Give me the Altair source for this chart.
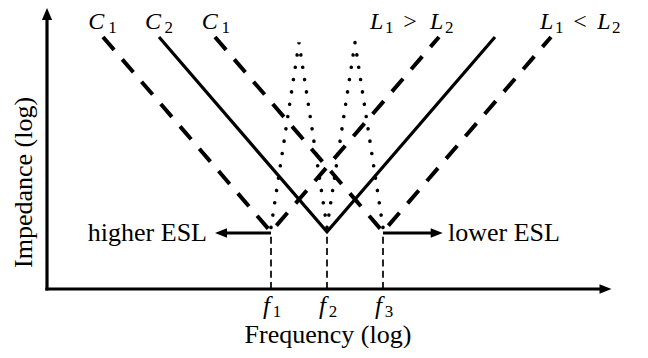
import altair as alt
import pandas as pd

# ---------------- data (abstract log-frequency / log-impedance units) ----------------
res_freq = [40, 50, 60]            # f1, f2, f3
res_sub = ["1", "2", "3"]

# V-shaped impedance curves (left top, resonance, right top)
v_curve = ["f1", "f1", "f1", "f2", "f2", "f2", "f3", "f3", "f3"]
v_x = [10, 40, 70, 20, 50, 80, 30, 60, 90]
v_z = [45, 10.2, 45, 45, 10.2, 45, 45, 10.2, 45]
v_style = ["dashed", "dashed", "dashed", "solid", "solid", "solid", "dashed", "dashed", "dashed"]

# anti-resonance peaks (dotted)
peak_x = [40, 45, 50, 55, 60]
peak_z = [11, 44, 11, 44, 11]

# drop lines from resonance to frequency axis
drop_x = [40, 50, 60]
drop_top = [10, 10.2, 10]

# ESL arrows
esl_from = [40, 60]
esl_tip = [30.0, 70.66]
esl_z = 10

# axis extents
axis_x_tip = 100.8
axis_y_tip = 50.18

# texts
top_main_text = ["C", "C", "C", "L", "L", "L", "L"]
top_main_x = [7.37, 17.5, 27.63, 57.68, 68.39, 88.04, 98.27]
top_sub_text = ["1", "2", "1", "1", "2", "1", "2"]
top_sub_x = [10.95, 21.0, 31.15, 60.36, 71.07, 90.71, 100.89]
rel_text = [">", "<"]
rel_x = [63.63, 93.98]
top_main_z = 46.34
top_sub_z = 45.80

esl_text = ["higher ESL", "lower ESL"]
x_title = "Frequency (log)"
y_title = "Impedance (log)"

# ---------------- scales ----------------
XS = alt.Scale(domain=[-6.964, 105.536], nice=False, zero=False)
YS = alt.Scale(domain=[-10.536, 50.179], nice=False, zero=False)
FONT = "Liberation Serif, DejaVu Serif, serif"


def X(f):
    return alt.X(f, type="quantitative", scale=XS, axis=None)


def Y(f):
    return alt.Y(f, type="quantitative", scale=YS, axis=None)


v_df = pd.DataFrame({"curve": v_curve, "x": v_x, "z": v_z, "style": v_style})
solid = alt.Chart(v_df[v_df["style"] == "solid"]).mark_line(
    color="black", strokeWidth=3.2, strokeCap="butt", strokeJoin="miter"
).encode(x=X("x"), y=Y("z"), detail="curve:N")
dashed = alt.Chart(v_df[v_df["style"] == "dashed"]).mark_line(
    color="black", strokeWidth=4, strokeDash=[17, 12.5], strokeCap="butt"
).encode(x=X("x"), y=Y("z"), detail="curve:N")

dot_df = pd.DataFrame({"x": peak_x, "z": peak_z})
dotted = alt.Chart(dot_df).mark_line(
    color="black", strokeWidth=3.6, strokeDash=[0.01, 12.45], strokeCap="round"
).encode(x=X("x"), y=Y("z"))

drop_df = pd.DataFrame({"x": drop_x, "top": drop_top, "bot": [0, 0, 0]})
drops = alt.Chart(drop_df).mark_rule(
    color="black", strokeWidth=1.7, strokeDash=[7, 4.3]
).encode(x=X("x"), y=Y("bot"), y2="top")

head_len = 1.8  # shaft stops under the arrowhead
esl_df = pd.DataFrame({
    "x": esl_from,
    "x2": [esl_tip[0] + head_len, esl_tip[1] - head_len],
    "z": [esl_z, esl_z],
})
esl_shafts = alt.Chart(esl_df).mark_rule(color="black", strokeWidth=2.8).encode(
    x=X("x"), x2="x2", y=Y("z"))

ax_df = pd.DataFrame({"x": [0, 0], "x2": [axis_x_tip - head_len, 0],
                      "z": [0, 0], "z2": [0, axis_y_tip - head_len]})
axes = alt.Chart(ax_df).mark_rule(color="black", strokeWidth=3.2, strokeCap="square").encode(
    x=X("x"), x2="x2", y=Y("z"), y2="z2")

UP = "M0,0L-0.85,2L0.85,2Z"
RIGHT = "M0,0L-2,-0.8L-2,0.8Z"
LEFT = "M0,0L2,-0.8L2,0.8Z"


def heads(xs, zs, shape):
    return alt.Chart(pd.DataFrame({"x": xs, "z": zs})).mark_point(
        shape=shape, size=144, filled=True, color="black", opacity=1, strokeWidth=0
    ).encode(x=X("x"), y=Y("z"))


head_up = heads([0], [axis_y_tip], UP)
head_right = heads([axis_x_tip, esl_tip[1]], [0, esl_z], RIGHT)
head_left = heads([esl_tip[0]], [esl_z], LEFT)


def texts(t, xs, zs, size, align="left", italic=False, angle=None):
    kw = dict(font=FONT, fontSize=size, align=align, baseline="alphabetic", color="black")
    if italic:
        kw["fontStyle"] = "italic"
    if angle is not None:
        kw["angle"] = angle
    return alt.Chart(pd.DataFrame({"t": t, "x": xs, "z": zs})).mark_text(**kw).encode(
        x=X("x"), y=Y("z"), text="t:N")


top_main = texts(top_main_text, top_main_x, [top_main_z] * 7, 24, italic=True)
top_sub = texts(top_sub_text, top_sub_x, [top_sub_z] * 7, 17)
rel = texts(rel_text, rel_x, [top_main_z] * 2, 24)

f_main = texts(["f"] * 3, [f - 1.43 for f in res_freq], [-4.4] * 3, 25, italic=True)
f_sub = texts(res_sub, [f + 0.3 for f in res_freq], [-5.05] * 3, 17)

t_higher = texts([esl_text[0]], [28.57], [8.57], 26, align="right")
t_lower = texts([esl_text[1]], [71.6], [8.57], 26, align="left")
t_x = texts([x_title], [50.18], [-9.7], 26, align="center")
t_y = texts([y_title], [-2.73], [3.75], 26, align="left", angle=270)

chart = alt.layer(
    drops, dotted, dashed, solid, esl_shafts, axes, head_up, head_right, head_left,
    top_main, top_sub, rel, f_main, f_sub, t_higher, t_lower, t_x, t_y
).properties(
    width=630, height=340,
    autosize=alt.AutoSizeParams(type="none"),
    padding=0,
    background="white",
).configure_view(stroke=None)

chart.save("out.html", embed_options={"renderer": "svg", "actions": False})
